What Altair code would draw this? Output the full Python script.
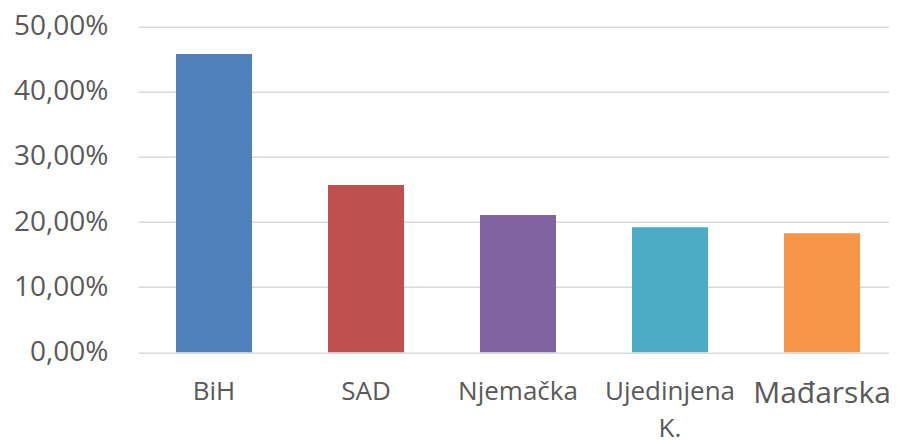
import altair as alt
import pandas as pd

categories = ["BiH", "SAD", "Njemačka", "Ujedinjena K.", "Mađarska"]
values = [0.458, 0.257, 0.211, 0.192, 0.183]
colors = ["#4F81BD", "#C0504D", "#8064A2", "#4BACC6", "#F79646"]
y_ticks = [0.0, 0.1, 0.2, 0.3, 0.4, 0.5]

df = pd.DataFrame({"zemlja": categories, "udio": values})

chart = alt.Chart(df).mark_bar().encode(
    x=alt.X(
        "zemlja:N",
        sort=categories,
        scale=alt.Scale(range=[0, 760], paddingInner=0.5, paddingOuter=0.25),
        axis=alt.Axis(
            title=None,
            labelAngle=0,
            labelFont="Open Sans",
            labelFontSize={"condition": {"test": "datum.value == 'Mađarska'", "value": 30}, "value": 26},
            labelColor="#595959",
            labelPadding=26,
            labelLineHeight=37,
            labelExpr="datum.label == 'Ujedinjena K.' ? ['Ujedinjena', 'K.'] : datum.label",
            ticks=False,
            domain=False,
            grid=False,
            labelLimit=300,
        ),
    ),
    y=alt.Y(
        "udio:Q",
        scale=alt.Scale(domain=[0, 0.5], nice=False),
        axis=alt.Axis(
            title=None,
            values=y_ticks,
            labelExpr="replace(format(datum.value, '.2%'), '.', ',')",
            labelFont="Open Sans",
            labelFontSize=28,
            labelColor="#595959",
            labelPadding=30,
            ticks=False,
            domain=False,
            gridColor="#D9D9D9",
            gridWidth=1.5,
        ),
    ),
    color=alt.Color("zemlja:N", sort=categories,
                    scale=alt.Scale(domain=categories, range=colors), legend=None),
).properties(
    width=751,
    height=325.6,
    autosize=alt.AutoSizeParams(type="none"),
    padding={"left": 130, "top": 18.7, "right": 0, "bottom": 90},
).configure_view(stroke=None)

chart.save("out.html", embed_options={"renderer": "svg", "actions": False})
